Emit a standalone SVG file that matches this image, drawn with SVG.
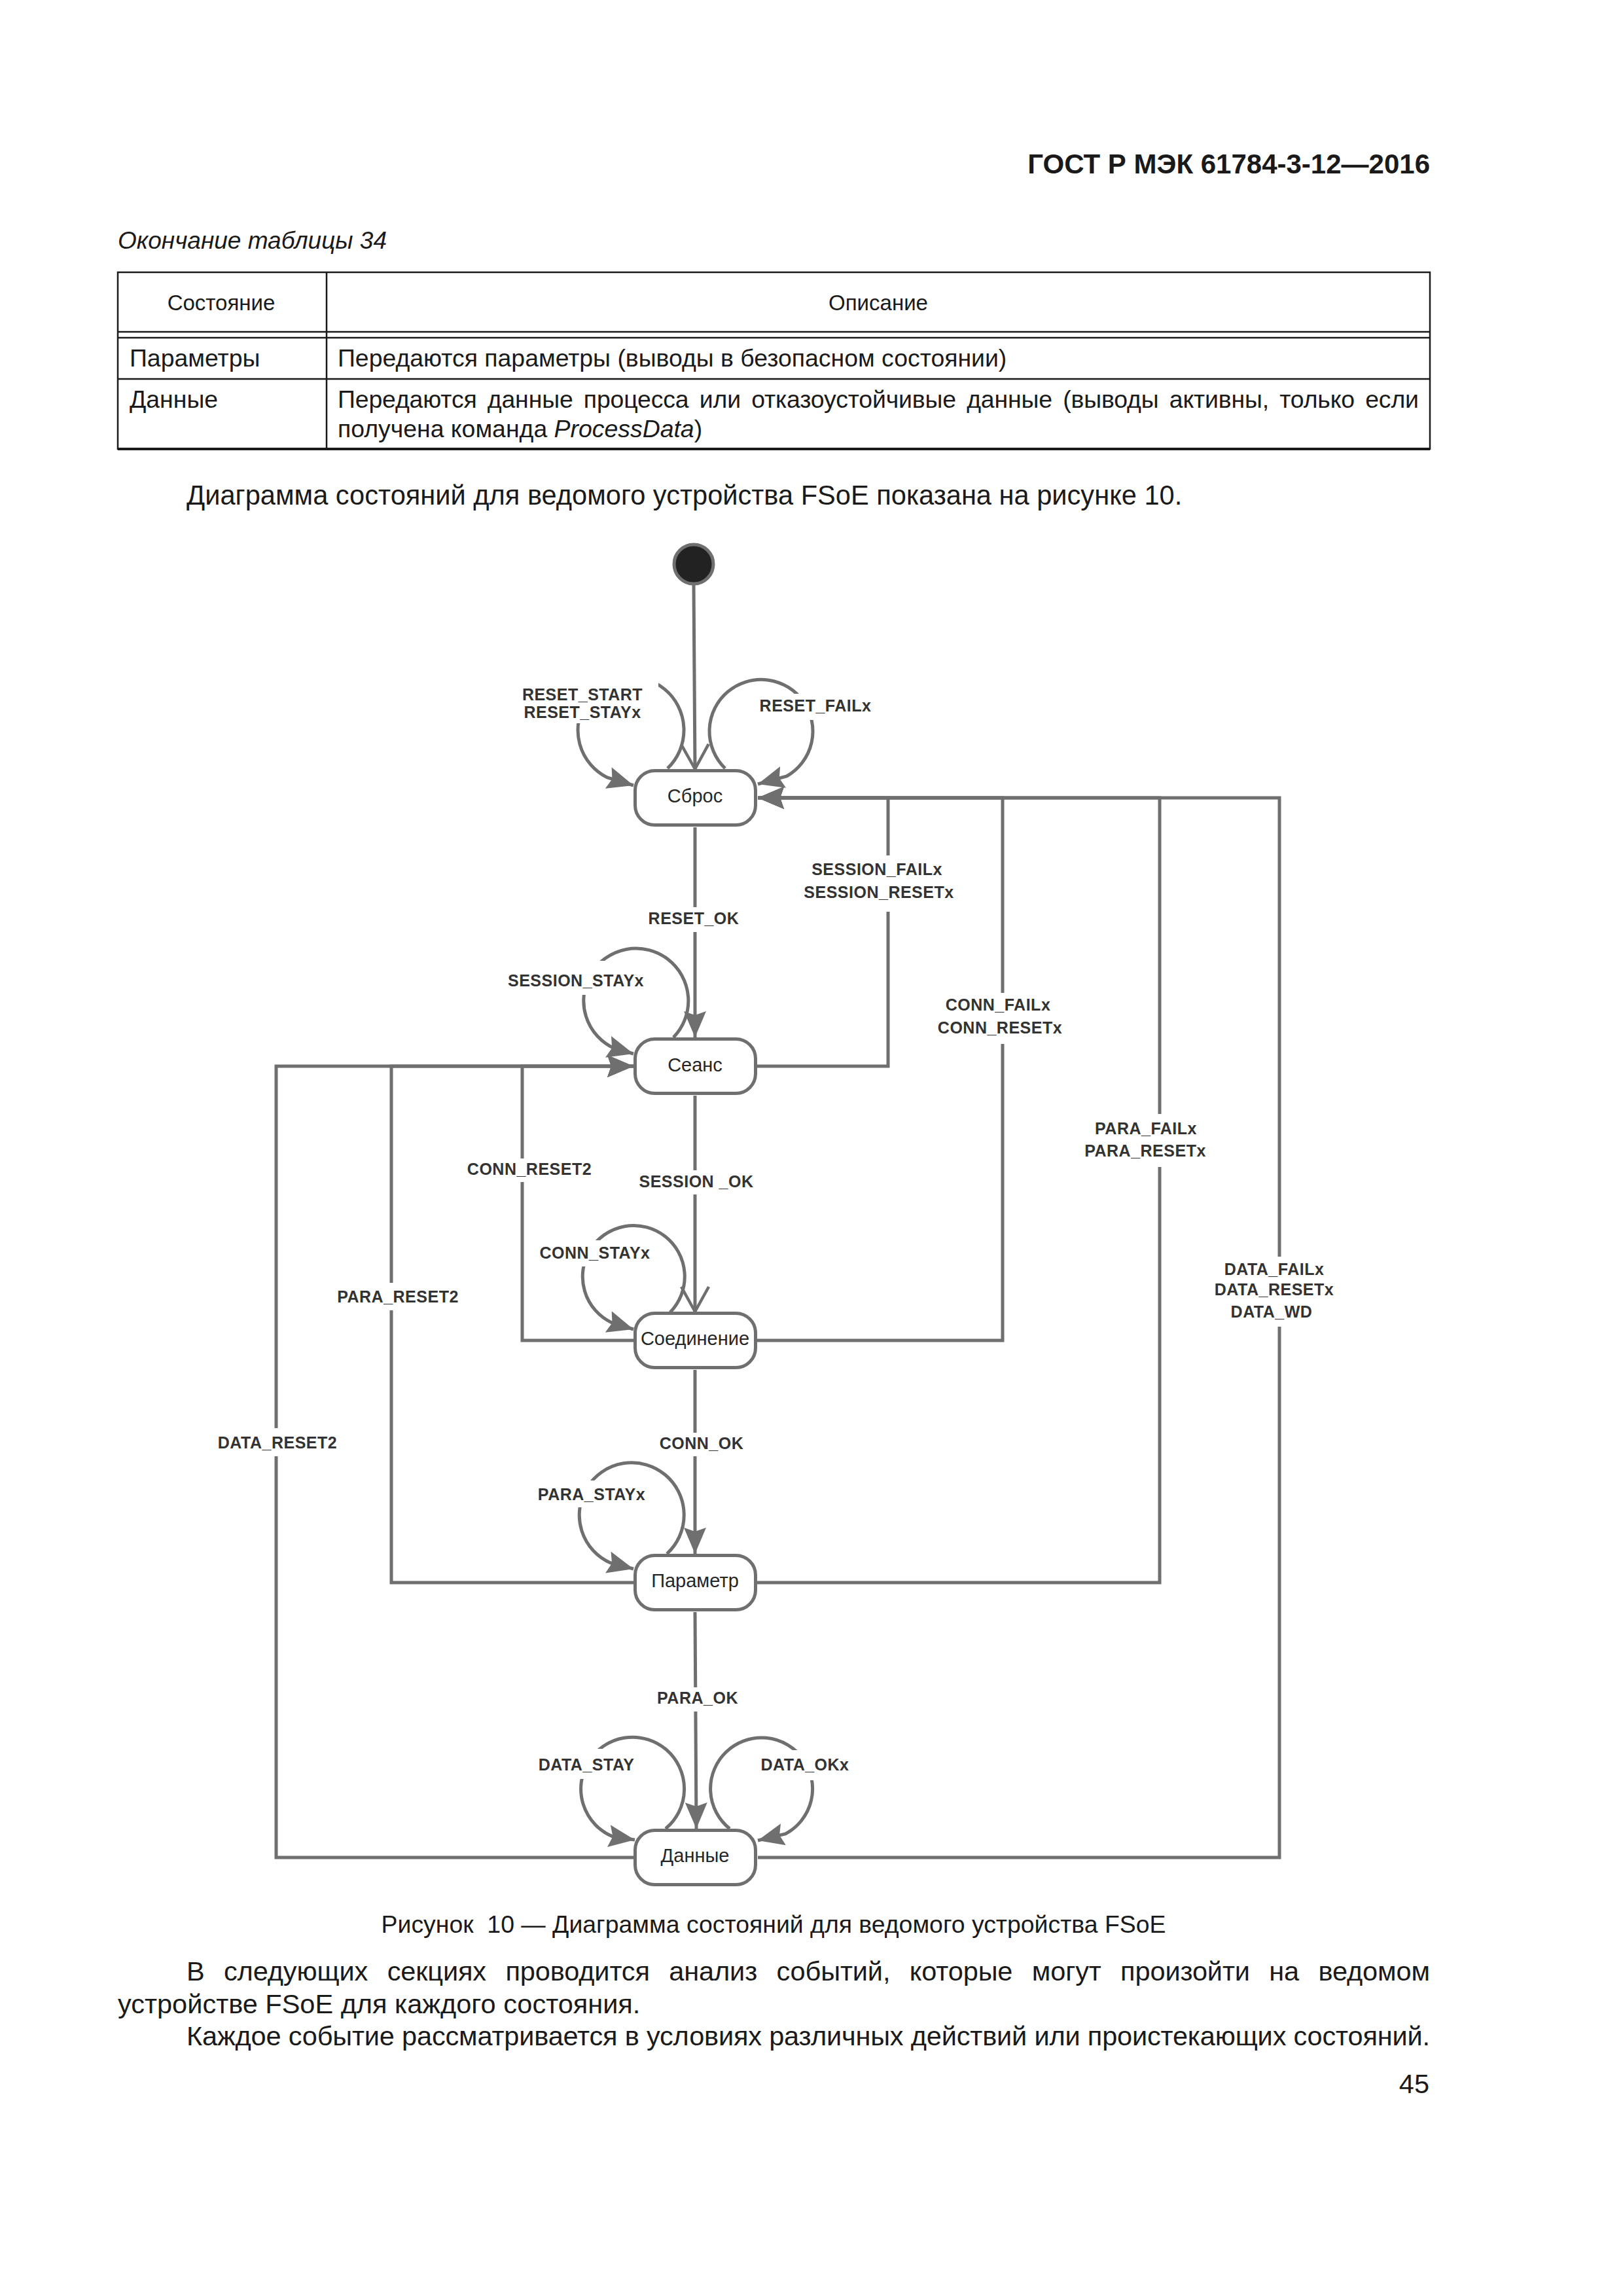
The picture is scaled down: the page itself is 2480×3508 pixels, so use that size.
<svg xmlns="http://www.w3.org/2000/svg" width="2480" height="3508" viewBox="0 0 2480 3508">
<style>
.pg{font-family:"Liberation Sans",Arial,sans-serif;fill:#1a1a1a}
.tb{font-family:"Liberation Sans",Arial,sans-serif;font-size:37.4px;fill:#1a1a1a}
.th{font-family:"Liberation Sans",Arial,sans-serif;font-size:33px;fill:#1a1a1a;text-anchor:middle}
.tl{stroke:#1a1a1a;stroke-width:2.5;fill:none}
.ln{fill:none;stroke:#6f6f6f;stroke-width:5;stroke-linejoin:miter}
.lp{fill:none;stroke:#6f6f6f;stroke-width:5}
.box{fill:#fff;stroke:#6f6f6f;stroke-width:5}
.nt{font-family:"Liberation Sans",Arial,sans-serif;font-size:29px;fill:#262626;text-anchor:middle}
.lb{font-family:"Liberation Sans",Arial,sans-serif;font-size:25px;font-weight:bold;fill:#333;text-anchor:middle;letter-spacing:0.5px}
.bg{fill:#fff}
</style>
<defs>
<marker id="ah" markerUnits="userSpaceOnUse" viewBox="0 0 40 34" refX="40" refY="17" markerWidth="40" markerHeight="34" orient="auto"><path d="M0,0 L40,17 L0,34 L6,17 z" fill="#6f6f6f"/></marker>
<marker id="av" markerUnits="userSpaceOnUse" viewBox="-4 -4 46 50" refX="38" refY="21" markerWidth="46" markerHeight="50" orient="auto"><path d="M0,0 L38,21 L0,42" fill="none" stroke="#6f6f6f" stroke-width="4.5" stroke-linejoin="round"/></marker>
</defs>
<rect width="2480" height="3508" fill="#fff"/>

<g id="page-text">
<text class="pg" x="2185" y="265" font-size="42" font-weight="bold" text-anchor="end">ГОСТ Р МЭК 61784-3-12—2016</text>
<text class="pg" x="180" y="380" font-size="37" font-style="italic">Окончание таблицы 34</text>
<text class="pg" x="285" y="771" font-size="41.6">Диаграмма состояний для ведомого устройства FSoE показана на рисунке 10.</text>
<text class="pg" x="1182" y="2953" font-size="37.4" text-anchor="middle" xml:space="preserve">Рисунок  10 — Диаграмма состояний для ведомого устройства FSoE</text>
<text class="pg" x="285" y="3026" font-size="41.5" word-spacing="18" textLength="1900" lengthAdjust="spacing">В следующих секциях проводится анализ событий, которые могут произойти на ведомом</text>
<text class="pg" x="180" y="3076" font-size="41.5">устройстве FSoE для каждого состояния.</text>
<text class="pg" x="285" y="3125" font-size="41.5" textLength="1900" lengthAdjust="spacing">Каждое событие рассматривается в условиях различных действий или проистекающих состояний.</text>
<text class="pg" x="2184" y="3198" font-size="41.5" text-anchor="end">45</text>
</g>

<g id="table">
<rect class="tl" x="180" y="416" width="2005" height="270"/>
<line class="tl" x1="499" y1="416" x2="499" y2="686"/>
<line class="tl" x1="180" y1="507" x2="2185" y2="507"/>
<line class="tl" x1="180" y1="516" x2="2185" y2="516"/>
<line class="tl" x1="180" y1="579" x2="2185" y2="579"/>
<line stroke="#1a1a1a" stroke-width="4" x1="180" y1="686" x2="2185" y2="686"/>
<text class="th" x="338" y="474">Состояние</text>
<text class="th" x="1342" y="474">Описание</text>
<text class="tb" x="198" y="560">Параметры</text>
<text class="tb" x="516" y="560">Передаются параметры (выводы в безопасном состоянии)</text>
<text class="tb" x="198" y="623">Данные</text>
<text class="tb" x="516" y="623" word-spacing="6" textLength="1652" lengthAdjust="spacing">Передаются данные процесса или отказоустойчивые данные (выводы активны, только если</text>
<text class="tb" x="516" y="668">получена команда <tspan font-style="italic">ProcessData</tspan>)</text>
</g>

<g id="connectors">
<path id="e-init" class="ln" d="M1060,894 L1062,1175" marker-end="url(#av)"/>
<path id="e-reset-ok" class="ln" d="M1062,1264 V1585" marker-end="url(#ah)"/>
<path id="e-session-ok" class="ln" d="M1062,1674 V2004" marker-end="url(#av)"/>
<path id="e-conn-ok" class="ln" d="M1062,2093 V2374" marker-end="url(#ah)"/>
<path id="e-para-ok" class="ln" d="M1062,2463 L1064,2794" marker-end="url(#ah)"/>
<path id="e-session-fail" class="ln" d="M1157,1629 H1357 V1219 H1158" marker-end="url(#ah)"/>
<path id="e-conn-fail" class="ln" d="M1157,2048 H1532 V1219 H1158" marker-end="url(#ah)"/>
<path id="e-para-fail" class="ln" d="M1157,2418 H1772 V1219 H1158" marker-end="url(#ah)"/>
<path id="e-data-fail" class="ln" d="M1158,2838 H1955 V1219 H1158" marker-end="url(#ah)"/>
<path id="e-conn-reset2" class="ln" d="M968,2048 H798 V1629 H968" marker-end="url(#ah)"/>
<path id="e-para-reset2" class="ln" d="M968,2418 H598 V1629 H968" marker-end="url(#ah)"/>
<path id="e-data-reset2" class="ln" d="M970,2838 H422 V1629 H968" marker-end="url(#ah)"/>
<path id="e-reset-stay" class="lp" d="M1020,1174 A81,81 0 1,0 928,1188 L968,1200" marker-end="url(#ah)"/>
<path id="e-reset-fail" class="lp" d="M1108,1174 A79,79 0 1,1 1202,1186 L1158,1198" marker-end="url(#ah)"/>
<path id="e-session-stay" class="lp" d="M1029,1585 A80,80 0 1,0 939,1602 L968,1610" marker-end="url(#ah)"/>
<path id="e-conn-stay" class="lp" d="M1024,2005 A78,78 0 1,0 935,2021 L968,2031" marker-end="url(#ah)"/>
<path id="e-para-stay" class="lp" d="M1019,2374 A80,80 0 1,0 933,2388 L968,2397" marker-end="url(#ah)"/>
<path id="e-data-stay" class="lp" d="M1017,2794 A79,79 0 1,0 936,2806 L970,2811" marker-end="url(#ah)"/>
<path id="e-data-ok" class="lp" d="M1115,2794 A78,78 0 1,1 1200,2802 L1158,2812" marker-end="url(#ah)"/>
</g>

<g id="labels">
<rect class="bg" x="788" y="1030" width="218" height="75"/>
<text class="lb" x="890" y="1070">RESET_START</text>
<text class="lb" x="890" y="1097">RESET_STAYx</text>
<rect class="bg" x="1150" y="1060" width="190" height="40"/>
<text class="lb" x="1246" y="1087">RESET_FAILx</text>
<rect class="bg" x="985" y="1386" width="155" height="38"/>
<text class="lb" x="1060" y="1412">RESET_OK</text>
<rect class="bg" x="1225" y="1307" width="240" height="86"/>
<text class="lb" x="1340" y="1337">SESSION_FAILx</text>
<text class="lb" x="1343" y="1372">SESSION_RESETx</text>
<rect class="bg" x="1425" y="1517" width="212" height="78"/>
<text class="lb" x="1525" y="1544">CONN_FAILx</text>
<text class="lb" x="1528" y="1579">CONN_RESETx</text>
<rect class="bg" x="770" y="1468" width="220" height="52"/>
<text class="lb" x="880" y="1507">SESSION_STAYx</text>
<rect class="bg" x="705" y="1770" width="210" height="36"/>
<text class="lb" x="809" y="1795">CONN_RESET2</text>
<rect class="bg" x="975" y="1788" width="180" height="37"/>
<text class="lb" x="1064" y="1814" xml:space="preserve">SESSION _OK</text>
<rect class="bg" x="815" y="1895" width="190" height="40"/>
<text class="lb" x="909" y="1923">CONN_STAYx</text>
<rect class="bg" x="505" y="1960" width="207" height="42"/>
<text class="lb" x="608" y="1990">PARA_RESET2</text>
<rect class="bg" x="1648" y="1702" width="204" height="81"/>
<text class="lb" x="1751" y="1733">PARA_FAILx</text>
<text class="lb" x="1750" y="1767">PARA_RESETx</text>
<rect class="bg" x="1845" y="1920" width="205" height="107"/>
<text class="lb" x="1947" y="1948">DATA_FAILx</text>
<text class="lb" x="1947" y="1979">DATA_RESETx</text>
<text class="lb" x="1943" y="2013">DATA_WD</text>
<rect class="bg" x="318" y="2182" width="212" height="43"/>
<text class="lb" x="424" y="2213">DATA_RESET2</text>
<rect class="bg" x="1000" y="2189" width="145" height="36"/>
<text class="lb" x="1072" y="2214">CONN_OK</text>
<rect class="bg" x="810" y="2262" width="190" height="41"/>
<text class="lb" x="904" y="2292">PARA_STAYx</text>
<rect class="bg" x="995" y="2578" width="140" height="37"/>
<text class="lb" x="1066" y="2603">PARA_OK</text>
<rect class="bg" x="808" y="2672" width="177" height="46"/>
<text class="lb" x="896" y="2705">DATA_STAY</text>
<rect class="bg" x="1150" y="2674" width="160" height="46"/>
<text class="lb" x="1230" y="2705">DATA_OKx</text>
</g>

<g id="n-initial">
<circle cx="1060" cy="862" r="30" fill="#222" stroke="#6f6f6f" stroke-width="5"/>
</g>
<g id="n-reset">
<rect class="box" x="970.5" y="1177.5" width="184" height="83" rx="30"/>
<text class="nt" x="1062" y="1226">Сброс</text>
</g>
<g id="n-session">
<rect class="box" x="970.5" y="1587.5" width="184" height="83" rx="30"/>
<text class="nt" x="1062" y="1637">Сеанс</text>
</g>
<g id="n-connection">
<rect class="box" x="970.5" y="2006.5" width="184" height="83" rx="30"/>
<text class="nt" x="1062" y="2055">Соединение</text>
</g>
<g id="n-parameter">
<rect class="box" x="970.5" y="2376.5" width="184" height="83" rx="30"/>
<text class="nt" x="1062" y="2425">Параметр</text>
</g>
<g id="n-data">
<rect class="box" x="970.5" y="2796.5" width="184" height="83" rx="30"/>
<text class="nt" x="1062" y="2845">Данные</text>
</g>
</svg>
